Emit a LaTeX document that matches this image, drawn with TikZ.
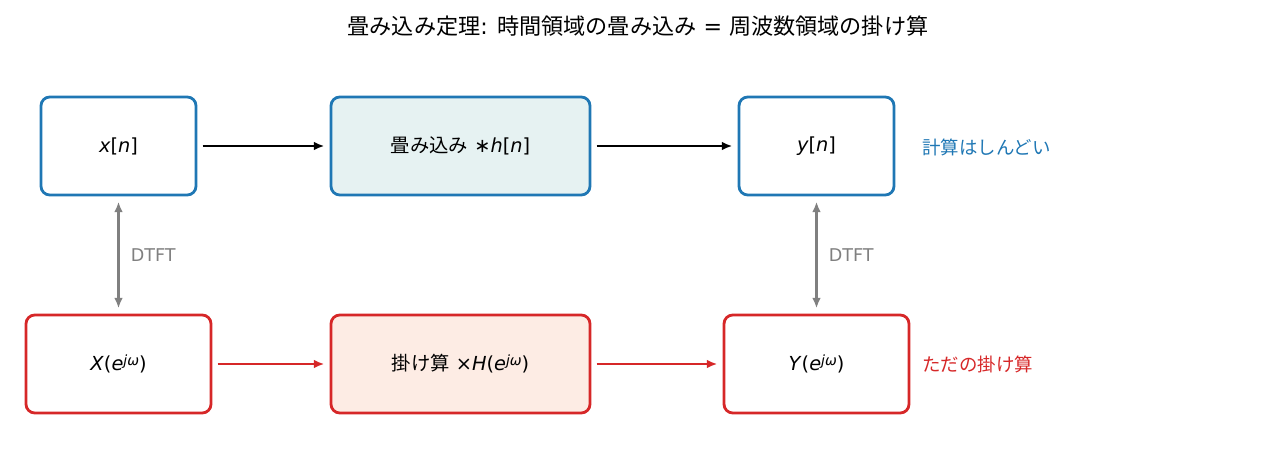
\documentclass[tikz,border=0pt]{standalone}
\usepackage{fontspec}
\setmainfont{DejaVu Sans}
\newfontfamily\cjk{Noto Sans CJK JP}
\usetikzlibrary{arrows.meta}
\definecolor{bblue}{HTML}{1F77B4}
\definecolor{rred}{HTML}{D62728}
\definecolor{lblue}{HTML}{E6F2F2}
\definecolor{lred}{HTML}{FDECE4}
\newcommand{\ejw}{\textit{e}\raisebox{0.55ex}{\fontsize{8}{9}\selectfont\textit{jω}}}
\begin{document}
\begin{tikzpicture}[x=0.02cm,y=-0.02cm,
  box/.style={draw,line width=1.6pt,rounded corners=5pt,inner sep=0pt,font=\fontsize{11}{13}\selectfont},
  bb/.style={box,draw=bblue,minimum width=155*0.02cm,minimum height=98*0.02cm},
  rb/.style={box,draw=rred,minimum width=185*0.02cm,minimum height=98*0.02cm},
  arr/.style={-{Latex[length=6pt,width=5pt]},line width=1.4pt},
  dt/.style={{Latex[length=6pt,width=5pt]}-{Latex[length=6pt,width=5pt]},line width=1.4pt,gray}]
\useasboundingbox (0,0) rectangle (1277,452);
\node[font=\fontsize{12.6}{15}\selectfont] (t) at (638,26) {{\cjk 畳み込み定理}: {\cjk 時間領域の畳み込み} = {\cjk 周波数領域の掛け算}};
\node[bb] (x) at (118.5,146) {\textit{x}[\textit{n}]};
\node[bb,minimum width=259*0.02cm,fill=lblue] (c) at (460.5,146) {{\cjk 畳み込み} ∗\textit{h}[\textit{n}]};
\node[bb] (y) at (816.5,146) {\textit{y}[\textit{n}]};
\node[rb] (X) at (118.5,364) {\textit{X}(\ejw)};
\node[rb,minimum width=259*0.02cm,fill=lred] (m) at (460.5,364) {{\cjk 掛け算} ×\textit{H}(\ejw)};
\node[rb] (Y) at (816.5,364) {\textit{Y}(\ejw)};
\node[anchor=west,text=bblue,font=\cjk\fontsize{10.5}{13}\selectfont] (l1) at (916,147) {計算はしんどい};
\node[anchor=west,text=rred,font=\cjk\fontsize{10.5}{13}\selectfont] (l2) at (916,364) {ただの掛け算};
\draw[arr] ([xshift=3pt]x.east) -- ([xshift=-3pt]c.west);
\draw[arr] ([xshift=3pt]c.east) -- ([xshift=-3pt]y.west);
\draw[arr,rred] ([xshift=3pt]X.east) -- ([xshift=-3pt]m.west);
\draw[arr,rred] ([xshift=3pt]m.east) -- ([xshift=-3pt]Y.west);
\draw[dt] ([yshift=-3pt]x.south) -- node[right=3pt,text=gray,font=\fontsize{10}{12}\selectfont] (d1) {DTFT} ([yshift=3pt]X.north);
\draw[dt] ([yshift=-3pt]y.south) -- node[right=3pt,text=gray,font=\fontsize{10}{12}\selectfont] (d2) {DTFT} ([yshift=3pt]Y.north);
\end{tikzpicture}
\end{document}
